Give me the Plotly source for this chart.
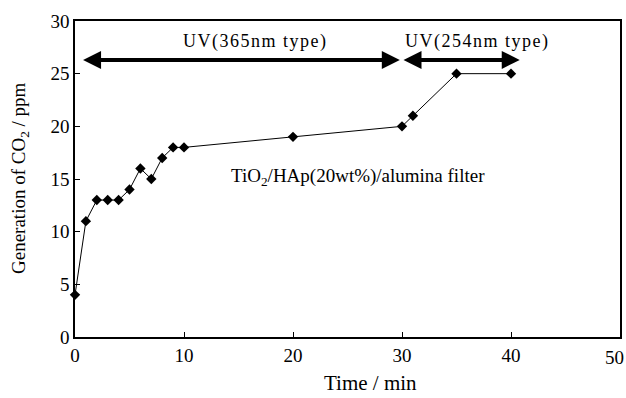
import plotly.graph_objects as go

time_min = [0, 1, 2, 3, 4, 5, 6, 7, 8, 9, 10, 20, 30, 31, 35, 40]
co2_ppm = [4, 11, 13, 13, 13, 14, 16, 15, 17, 18, 18, 19, 20, 21, 25, 25]

x_ticks = [0, 10, 20, 30, 40, 50]
y_ticks = [0, 5, 10, 15, 20, 25, 30]

uv_labels = ["UV(365nm type)", "UV(254nm type)"]
uv_start = [0.6, 30.0]
uv_end = [29.8, 40.8]
uv_label_x = [16.5, 36.8]
uv_level = 26.3

FONT = "Liberation Serif, Times New Roman, serif"
BLACK = "#000000"

def spaced(s):
    return "\u200a".join(s)

L, R, T, B = 75, 6, 21, 61
W, H = 626, 398
PW, PH = W - L - R, H - T - B

def px_x(px):
    return (px - L) / PW

def px_y(py):
    return (H - B - py) / PH

fig = go.Figure()
fig.add_trace(go.Scatter(
    x=time_min, y=co2_ppm, mode="lines+markers",
    line=dict(color=BLACK, width=1),
    marker=dict(symbol="diamond", size=8, color=BLACK),
    showlegend=False, cliponaxis=False,
))

for lab, s, e, lx in zip(uv_labels, uv_start, uv_end, uv_label_x):
    fig.add_annotation(
        x=e, y=uv_level, ax=s, ay=uv_level, xref="x", yref="y", axref="x", ayref="y",
        showarrow=True, arrowhead=2, startarrowhead=2, arrowside="end+start",
        arrowwidth=4, arrowsize=0.9, startarrowsize=0.9, arrowcolor=BLACK, text="",
    )
    fig.add_annotation(
        x=lx, y=uv_level, xref="x", yref="y", yshift=18,
        text=spaced(lab), showarrow=False,
        font=dict(family=FONT, size=18, color=BLACK),
    )

fig.add_annotation(
    x=26.0, y=15.2, xref="x", yref="y",
    text="TiO<sub>2</sub>/HAp(20wt%)/alumina filter", showarrow=False,
    font=dict(family=FONT, size=19, color=BLACK),
)

fig.add_annotation(
    x=px_x(370), y=px_y(383), xref="paper", yref="paper",
    text="Time / min", showarrow=False, xanchor="center", yanchor="middle",
    font=dict(family=FONT, size=21, color=BLACK),
)

fig.add_annotation(
    x=px_x(20), y=px_y(178), xref="paper", yref="paper",
    text="Generation of CO<sub>2</sub> / ppm", showarrow=False, textangle=-90,
    font=dict(family=FONT, size=19, color=BLACK),
    xanchor="center", yanchor="middle",
)

# last x tick label sits just inside the right edge in the reference
fig.add_annotation(
    x=x_ticks[-1], y=0, xref="x", yref="y", xshift=-6, yshift=-20,
    text=str(x_ticks[-1]), showarrow=False, xanchor="center", yanchor="middle",
    font=dict(family=FONT, size=19, color=BLACK),
)

axis_common = dict(
    showline=True, linecolor=BLACK, linewidth=1.5, mirror=True,
    ticks="inside", ticklen=5, tickcolor=BLACK, tickwidth=1,
    showgrid=False, zeroline=False, ticklabeloverflow="allow",
    automargin=False,
    tickfont=dict(family=FONT, size=19, color=BLACK),
)

fig.update_layout(
    width=W, height=H,
    margin=dict(l=L, r=R, t=T, b=B, autoexpand=False),
    paper_bgcolor="white", plot_bgcolor="white",
    font=dict(family=FONT, color=BLACK),
    xaxis=dict(range=[0, 50], tickvals=x_ticks,
               ticktext=[str(v) for v in x_ticks[:-1]] + [""], **axis_common),
    yaxis=dict(range=[0, 30], tickvals=y_ticks, **axis_common),
)

fig.write_html("out.html")
